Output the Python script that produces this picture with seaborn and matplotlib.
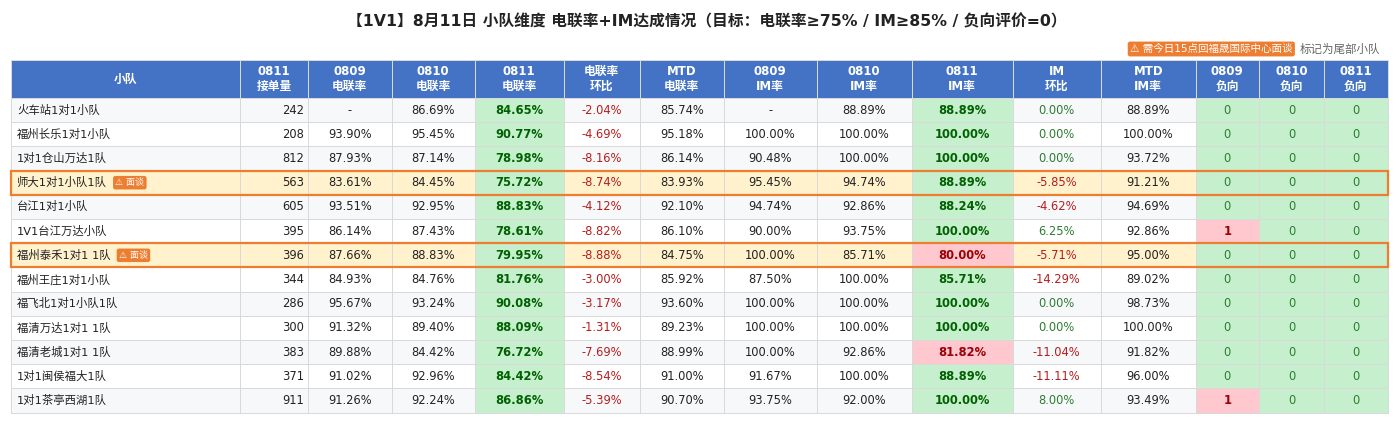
import numpy as np
import pandas as pd
import matplotlib.pyplot as plt
import seaborn as sns
from matplotlib.colors import ListedColormap, BoundaryNorm
from matplotlib.patches import Rectangle

sns.set_theme(style="white")
BODY_FONT = ['DejaVu Sans', 'Noto Sans CJK SC']
plt.rcParams['font.family'] = BODY_FONT
plt.rcParams['axes.unicode_minus'] = False

# ---- data ----
title = "【1V1】8月11日 小队维度 电联率+IM达成情况（目标：电联率≥75% / IM≥85% / 负向评价=0）"
legend_badge = "⚠ 需今日15点回福晟国际中心面谈"
legend_note = "标记为尾部小队"
badge_text = "⚠ 面谈"

headers = ["小队", "0811\n接单量", "0809\n电联率", "0810\n电联率", "0811\n电联率", "电联率\n环比",
           "MTD\n电联率", "0809\nIM率", "0810\nIM率", "0811\nIM率", "IM\n环比", "MTD\nIM率",
           "0809\n负向", "0810\n负向", "0811\n负向"]

teams = ["火车站1对1小队", "福州长乐1对1小队", "1对1仓山万达1队", "师大1对1小队1队", "台江1对1小队",
         "1V1台江万达小队", "福州泰禾1对1 1队", "福州王庄1对1小队", "福飞北1对1小队1队",
         "福清万达1对1 1队", "福清老城1对1 1队", "1对1闽侯福大1队", "1对1茶亭西湖1队"]
orders = [242, 208, 812, 563, 605, 395, 396, 344, 286, 300, 383, 371, 911]
call_0809 = [None, 93.90, 87.93, 83.61, 93.51, 86.14, 87.66, 84.93, 95.67, 91.32, 89.88, 91.02, 91.26]
call_0810 = [86.69, 95.45, 87.14, 84.45, 92.95, 87.43, 88.83, 84.76, 93.24, 89.40, 84.42, 92.96, 92.24]
call_0811 = [84.65, 90.77, 78.98, 75.72, 88.83, 78.61, 79.95, 81.76, 90.08, 88.09, 76.72, 84.42, 86.86]
call_diff = [-2.04, -4.69, -8.16, -8.74, -4.12, -8.82, -8.88, -3.00, -3.17, -1.31, -7.69, -8.54, -5.39]
call_mtd = [85.74, 95.18, 86.14, 83.93, 92.10, 86.10, 84.75, 85.92, 93.60, 89.23, 88.99, 91.00, 90.70]
im_0809 = [None, 100.00, 90.48, 95.45, 94.74, 90.00, 100.00, 87.50, 100.00, 100.00, 100.00, 91.67, 93.75]
im_0810 = [88.89, 100.00, 100.00, 94.74, 92.86, 93.75, 85.71, 100.00, 100.00, 100.00, 92.86, 100.00, 92.00]
im_0811 = [88.89, 100.00, 100.00, 88.89, 88.24, 100.00, 80.00, 85.71, 100.00, 100.00, 81.82, 88.89, 100.00]
im_diff = [0.00, 0.00, 0.00, -5.85, -4.62, 6.25, -5.71, -14.29, 0.00, 0.00, -11.04, -11.11, 8.00]
im_mtd = [88.89, 100.00, 93.72, 91.21, 94.69, 92.86, 95.00, 89.02, 98.73, 100.00, 91.82, 96.00, 93.49]
neg_0809 = [0, 0, 0, 0, 0, 1, 0, 0, 0, 0, 0, 0, 1]
neg_0810 = [0] * 13
neg_0811 = [0] * 13
tail_teams = ["师大1对1小队1队", "福州泰禾1对1 1队"]

CALL_TARGET = 75
IM_TARGET = 85

df = pd.DataFrame({
    "team": teams, "orders": orders, "c0809": call_0809, "c0810": call_0810, "c0811": call_0811,
    "cdiff": call_diff, "cmtd": call_mtd, "i0809": im_0809, "i0810": im_0810, "i0811": im_0811,
    "idiff": im_diff, "imtd": im_mtd, "n0809": neg_0809, "n0810": neg_0810, "n0811": neg_0811,
})

# ---- layout (pixels) ----
col_widths = [229, 68, 83.5, 83, 89, 76.5, 83.5, 93.5, 94.5, 101, 88.5, 94.5, 63.5, 65, 63.5]
table_left, table_top = 11, 60
header_h, row_h = 38, 24.2
x_edges = table_left + np.concatenate([[0], np.cumsum(col_widths)])
y_edges = table_top + np.concatenate([[0], header_h + row_h * np.arange(len(teams) + 1)])

HEADER_BG = "#4472C4"
ROW_GRAY = "#F7F8FA"
ROW_WHITE = "#FFFFFF"
HIGHLIGHT = "#FFF2CC"
GOOD_BG = "#C6EFCE"
BAD_BG = "#FFC7CE"
GOOD_TXT = "#006100"
BAD_TXT = "#9C0006"
NEG_TXT = "#B71C1C"
POS_TXT = "#2E7D32"
ORANGE = "#ED7D31"
TXT = "#222222"
palette = [HEADER_BG, ROW_GRAY, ROW_WHITE, HIGHLIGHT, GOOD_BG, BAD_BG]

n_rows, n_cols = len(teams) + 1, len(headers)
codes = np.zeros((n_rows, n_cols), dtype=int)
for i, row in df.iterrows():
    r = i + 1
    base = 3 if row.team in tail_teams else (1 if i % 2 == 0 else 2)
    codes[r, :] = base
    codes[r, 4] = 4 if row.c0811 >= CALL_TARGET else 5
    codes[r, 9] = 4 if row.i0811 >= IM_TARGET else 5
    for c, key in zip([12, 13, 14], ["n0809", "n0810", "n0811"]):
        codes[r, c] = 4 if row[key] == 0 else 5

fig = plt.figure(figsize=(14, 4.45), dpi=100)
ax = fig.add_axes([0, 0, 1, 1])
ax.set_xlim(0, 1400)
ax.set_ylim(445, 0)
ax.axis("off")

cmap = ListedColormap(palette)
norm = BoundaryNorm(np.arange(len(palette) + 1) - 0.5, cmap.N)
ax.pcolormesh(x_edges, y_edges, codes, cmap=cmap, norm=norm,
              edgecolors="#D9D9D9", linewidth=0.7)

# title and legend
ax.text(707, 22, title, ha="center", va="center", fontsize=11.3, fontweight="bold",
        color=TXT)
note = ax.text(1380, 49, legend_note, ha="right", va="center", fontsize=8.3,
               color="#666666")
ax.annotate(legend_badge, xy=(0, 0.5), xycoords=note, xytext=(-5, 0),
            textcoords="offset points", ha="right", va="center", fontsize=7.6,
            color="white",
            bbox=dict(boxstyle="round,pad=0.22", fc=ORANGE, ec="none"))

# header
centers = (x_edges[:-1] + x_edges[1:]) / 2
hy = table_top + header_h / 2
for c, h in enumerate(headers):
    ax.text(centers[c], hy, h, ha="center", va="center", fontsize=8.5, fontweight="bold",
            color="white", linespacing=1.2)


def pct(v):
    return "-" if v is None or pd.isna(v) else f"{v:.2f}%"


for i, row in df.iterrows():
    yc = (y_edges[i + 1] + y_edges[i + 2]) / 2
    name = ax.text(x_edges[0] + 6, yc, row.team, ha="left", va="center", fontsize=8.2,
                   color=TXT)
    if row.team in tail_teams:
        ax.annotate(badge_text, xy=(1, 0.5), xycoords=name, xytext=(6, 0),
                    textcoords="offset points", ha="left", va="center", fontsize=6.5,
                    color="white", bbox=dict(boxstyle="round,pad=0.25", fc=ORANGE, ec="none"))
    ax.text(x_edges[2] - 4, yc, str(row.orders), ha="right", va="center", fontsize=8.3,
            color=TXT)

    cells = [
        (2, pct(row.c0809), TXT, "normal"),
        (3, pct(row.c0810), TXT, "normal"),
        (4, pct(row.c0811), GOOD_TXT if row.c0811 >= CALL_TARGET else BAD_TXT, "bold"),
        (5, pct(row.cdiff), NEG_TXT if row.cdiff < 0 else POS_TXT, "normal"),
        (6, pct(row.cmtd), TXT, "normal"),
        (7, pct(row.i0809), TXT, "normal"),
        (8, pct(row.i0810), TXT, "normal"),
        (9, pct(row.i0811), GOOD_TXT if row.i0811 >= IM_TARGET else BAD_TXT, "bold"),
        (10, pct(row.idiff), NEG_TXT if row.idiff < 0 else POS_TXT, "normal"),
        (11, pct(row.imtd), TXT, "normal"),
    ]
    for c, key in zip([12, 13, 14], ["n0809", "n0810", "n0811"]):
        v = int(row[key])
        cells.append((c, str(v), POS_TXT if v == 0 else BAD_TXT, "normal" if v == 0 else "bold"))
    for c, txt, col, wt in cells:
        ax.text(centers[c], yc, txt, ha="center", va="center", fontsize=8.3,
                color=col, fontweight=wt)

    if row.team in tail_teams:
        ax.add_patch(Rectangle((x_edges[0], y_edges[i + 1]), x_edges[-1] - x_edges[0], row_h,
                               fill=False, ec=ORANGE, lw=1.6, zorder=5))

fig.savefig("out.png", dpi=100)
